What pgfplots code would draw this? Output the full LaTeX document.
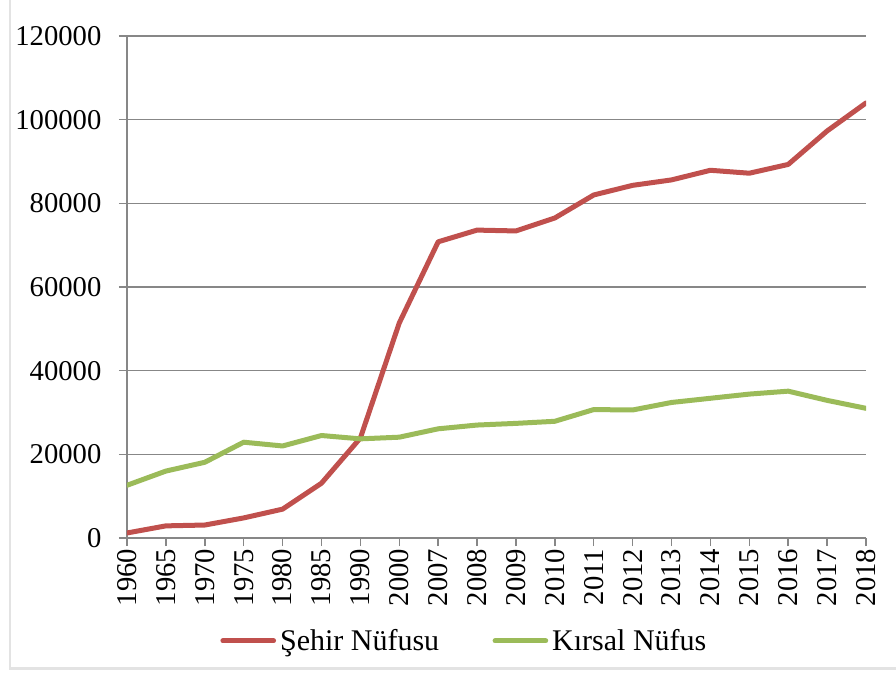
\documentclass[border=0pt]{standalone}
\usepackage{fontspec}
\setmainfont{Liberation Serif}
\usepackage{pgfplots}
\pgfplotsset{compat=1.18}
\definecolor{sred}{HTML}{C0504D}
\definecolor{sgreen}{HTML}{9BBB59}
\definecolor{gridc}{HTML}{878787}
\begin{document}
\begin{tikzpicture}[x=1pt,y=1pt]
\useasboundingbox (-95.25,-102.75) rectangle (576.75,403.5);
\draw[gray!22, line width=2pt] (-87.75,403.5) -- (-87.75,-98) -- (576.75,-98);
\begin{axis}[
  at={(0,0)}, anchor=origin,
  scale only axis, width=554.25pt, height=376.5pt,
  xmin=0, xmax=19, ymin=0, ymax=120000,
  xtick={0,...,19},
  xticklabels={1960,1965,1970,1975,1980,1985,1990,2000,2007,2008,2009,2010,2011,2012,2013,2014,2015,2016,2017,2018},
  x tick label style={rotate=90, anchor=east, font=\fontsize{21.5}{24}\selectfont, inner sep=2pt},
  ytick={0,20000,...,120000},
  y tick label style={font=\fontsize{21.5}{24}\selectfont, inner sep=0pt, xshift=-13pt},
  /pgf/number format/assume math mode=true,
  scaled y ticks=false,
  yticklabel={\pgfmathprintnumber[fixed,1000 sep={}]{\tick}},
  ymajorgrids, grid style={gridc, line width=1.1pt},
  axis x line*=bottom, axis y line*=left,
  axis line style={gridc, line width=1.1pt, -},
  tick style={gridc, line width=1.1pt},
  tick align=outside, major tick length=6pt,
  legend columns=2,
  legend style={draw=none, fill=none, at={(0.457,-0.205)}, anchor=center,
    font=\fontsize{22.5}{24}\selectfont, /tikz/every even column/.append style={column sep=38pt},
    /tikz/every odd column/.append style={column sep=1pt}},
  legend image code/.code={\draw[#1, line width=3.75pt, line cap=round] (0pt,0pt) -- (38pt,0pt);},
]
\addplot[sred, line width=3.75pt, line join=round, line cap=round] coordinates {
(0,1200) (1,2900) (2,3100) (3,4800) (4,6900) (5,13100) (6,23900) (7,51400) (8,70800) (9,73600)
(10,73400) (11,76500) (12,82000) (13,84300) (14,85600) (15,87900) (16,87200) (17,89300) (18,97300) (19,104000)};
\addlegendentry{Şehir Nüfusu}
\addplot[sgreen, line width=3.75pt, line join=round, line cap=round] coordinates {
(0,12600) (1,16000) (2,18100) (3,22900) (4,22000) (5,24500) (6,23700) (7,24100) (8,26100) (9,27000)
(10,27400) (11,27900) (12,30700) (13,30600) (14,32400) (15,33400) (16,34400) (17,35100) (18,32900) (19,31000)};
\addlegendentry{Kırsal Nüfus}
\end{axis}
\end{tikzpicture}
\end{document}
